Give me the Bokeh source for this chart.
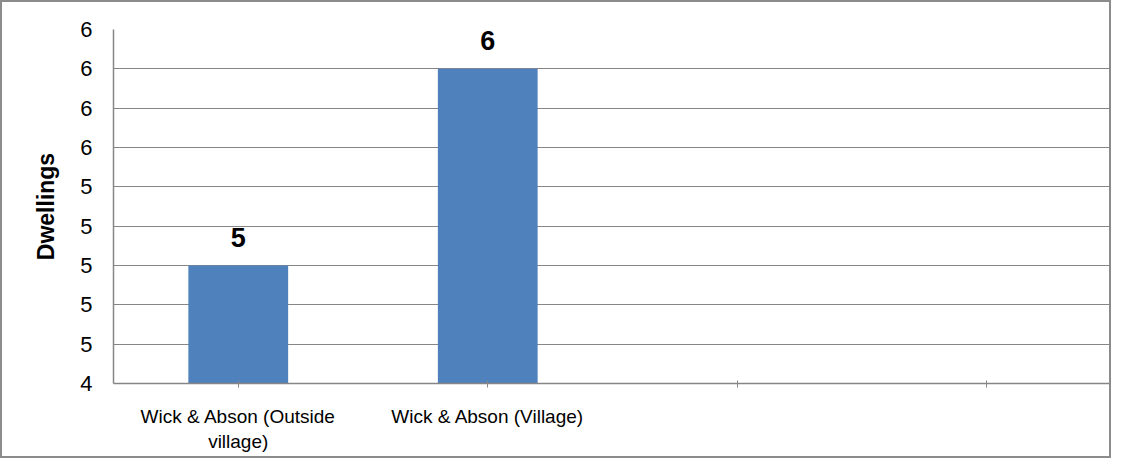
from bokeh.plotting import figure
from bokeh.models import Range1d, FixedTicker, NumeralTickFormatter, ColumnDataSource
from bokeh.core.properties import value
from bokeh.embed import file_html
from bokeh.resources import INLINE

# ---- data ----
categories = ["Wick & Abson (Outside village)", "Wick & Abson (Village)", "", ""]
x_labels = ["Wick & Abson (Outside\nvillage)", "Wick & Abson (Village)", "", ""]
dwellings = [5, 6]
y_ticks = [4.4, 4.6, 4.8, 5.0, 5.2, 5.4, 5.6, 5.8, 6.0, 6.2]
y_min, y_max = 4.4, 6.2

FONT = "Liberation Sans"
GREY = "#868686"

xs = list(range(len(dwellings)))
src = ColumnDataSource(dict(x=xs, top=dwellings, label=[str(v) for v in dwellings]))

p = figure(width=1111, height=458, output_backend="svg", toolbar_location=None,
           x_range=Range1d(-0.5, len(categories) - 0.5), y_range=Range1d(y_min, y_max),
           min_border_left=111, min_border_right=2, min_border_top=27, min_border_bottom=77)
p.styles = {"border": "2px solid #8c8c8c", "box-sizing": "border-box"}
p.outline_line_color = None
p.background_fill_color = "white"

p.vbar(x="x", top="top", bottom=y_min, width=0.4, source=src,
       fill_color="#4F81BD", line_color=None)
p.text(x="x", y="top", text="label", source=src, text_align="center",
       text_baseline="alphabetic", y_offset=-28, text_font=value(FONT),
       text_font_style="bold", text_font_size="27px", text_color="black")

# x axis
tick_pos = list(range(len(categories))) + [len(categories) - 0.5]
p.xaxis.ticker = FixedTicker(ticks=tick_pos)
overrides = {i: lab for i, lab in enumerate(x_labels)}
overrides[len(categories) - 0.5] = ""
p.xaxis.major_label_overrides = overrides
p.xaxis.major_label_text_font = FONT
p.xaxis.major_label_text_font_size = "19px"
p.xaxis.major_label_text_color = "black"
p.xaxis.major_label_standoff = 18
p.xaxis.axis_line_color = GREY
p.xaxis.axis_line_width = 1.5
p.xaxis.major_tick_line_color = GREY
p.xaxis.major_tick_in = 3
p.xaxis.major_tick_out = 4
p.xaxis.minor_tick_line_color = None
p.xgrid.grid_line_color = None

# y axis
p.yaxis.ticker = FixedTicker(ticks=y_ticks)
p.yaxis.formatter = NumeralTickFormatter(format="0")
p.yaxis.major_label_text_font = FONT
p.yaxis.major_label_text_font_size = "22px"
p.yaxis.major_label_text_color = "black"
p.yaxis.major_label_standoff = 15
p.yaxis.major_tick_line_color = None
p.yaxis.minor_tick_line_color = None
p.yaxis.axis_line_color = GREY
p.yaxis.axis_line_width = 1.5
p.yaxis.axis_label = "Dwellings"
p.yaxis.axis_label_text_font = FONT
p.yaxis.axis_label_text_font_style = "bold"
p.yaxis.axis_label_text_font_size = "23px"
p.yaxis.axis_label_text_color = "black"
p.yaxis.axis_label_standoff = 18
p.ygrid.grid_line_color = GREY
p.ygrid.grid_line_width = 1

open("out.html", "w").write(file_html(p, INLINE))
